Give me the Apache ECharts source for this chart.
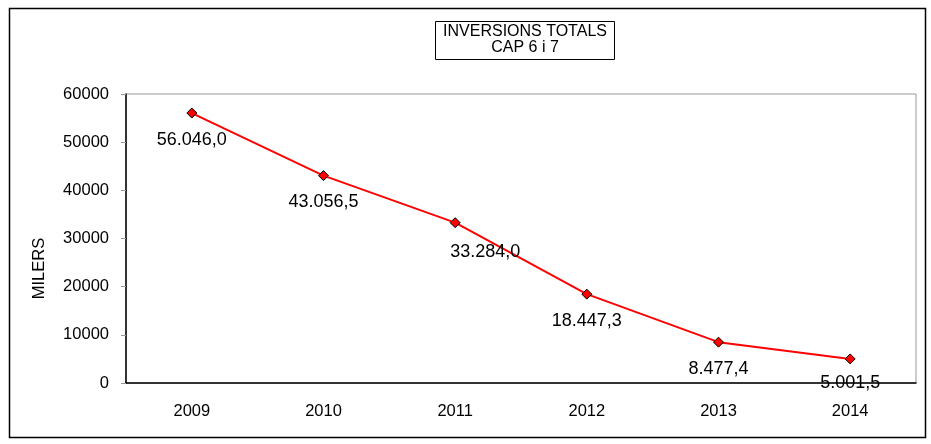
<!DOCTYPE html>
<html>
<head>
<meta charset="utf-8">
<script src="https://cdn.jsdelivr.net/npm/echarts@6/dist/echarts.min.js"></script>
<style>
html, body { margin: 0; padding: 0; background: #fff; }
#main { width: 931px; height: 444px; }
</style>
</head>
<body>
<div id="main"></div>
<script>
// dades del grafic
var anys = ['2009', '2010', '2011', '2012', '2013', '2014'];
var inversions = [56046.0, 43056.5, 33284.0, 18447.3, 8477.4, 5001.5];
var titol = ['INVERSIONS TOTALS', 'CAP 6 i 7'];
var nomEix = 'MILERS';

// format catala: 56.046,0
function formatMilers(v) {
    var parts = v.toFixed(1).split('.');
    var enter = parts[0].replace(/\B(?=(\d{3})+(?!\d))/g, '.');
    return enter + ',' + parts[1];
}

// l'etiqueta del 2011 esta desplaçada a la dreta
var desplaca = [[0, 0], [0, 0], [30, 3], [0, 0], [0, 0], [0, -2]];

var punts = [];
for (var i = 0; i < inversions.length; i++) {
    punts.push({
        value: inversions[i],
        label: { offset: desplaca[i] }
    });
}

var font = 'Liberation Sans';
var myChart = echarts.init(document.getElementById('main'));

var option = {
    backgroundColor: '#fff',
    animation: false,
    title: {
        text: titol.join('\n'),
        left: 517,
        top: 21,
        textAlign: 'center',
        padding: [3, 8, 4, 8],
        borderColor: '#000',
        borderWidth: 1,
        textStyle: {
            fontFamily: font,
            fontWeight: 'normal',
            fontSize: 16,
            lineHeight: 16,
            color: '#000'
        }
    },
    graphic: [{
        type: 'rect',
        shape: { x: 9.5, y: 8.5, width: 916, height: 429 },
        style: { fill: 'none', stroke: '#000', lineWidth: 1.5 },
        silent: true
    }],
    grid: {
        left: 126,
        right: 15,
        top: 94,
        bottom: 61,
        show: true,
        borderColor: '#999',
        borderWidth: 1
    },
    xAxis: {
        type: 'category',
        data: anys,
        boundaryGap: true,
        axisLine: { lineStyle: { color: '#000', width: 1.5 } },
        axisTick: { inside: true, length: 5, lineStyle: { color: '#999' } },
        axisLabel: {
            margin: 20,
            fontFamily: font,
            fontSize: 16.5,
            color: '#000'
        }
    },
    yAxis: {
        type: 'value',
        min: 0,
        max: 60000,
        interval: 10000,
        name: nomEix,
        nameLocation: 'middle',
        nameGap: 78,
        nameTextStyle: {
            fontFamily: font,
            fontSize: 16.5,
            color: '#000',
            padding: [0, 60, 0, 0]
        },
        axisLine: { show: true, lineStyle: { color: '#000', width: 1.5 } },
        axisTick: { show: true, length: 5, lineStyle: { color: '#999' } },
        splitLine: { show: false },
        axisLabel: {
            margin: 17,
            fontFamily: font,
            fontSize: 16.5,
            color: '#000',
            formatter: function (v) { return String(v); }
        }
    },
    series: [{
        type: 'line',
        data: punts,
        symbol: 'diamond',
        symbolSize: 10,
        lineStyle: { color: '#ff0000', width: 2 },
        itemStyle: { color: '#ff0000', borderColor: '#000', borderWidth: 1 },
        label: {
            show: true,
            position: 'bottom',
            distance: 12,
            fontFamily: font,
            fontSize: 18,
            color: '#000',
            formatter: function (p) {
                return formatMilers(p.value);
            }
        },
        z: 5
    }]
};

myChart.setOption(option);
</script>
</body>
</html>
